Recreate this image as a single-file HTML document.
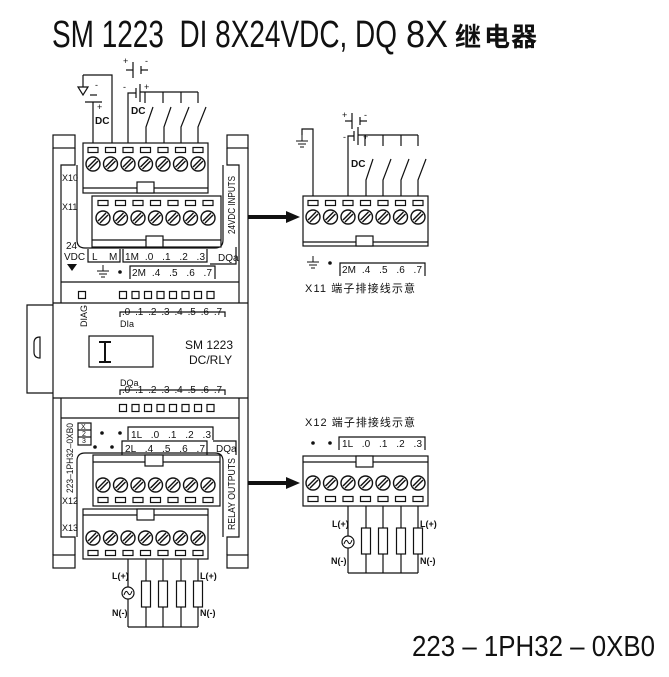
<!DOCTYPE html>
<html><head><meta charset="utf-8"><style>
html,body{margin:0;padding:0;background:#fff}
svg{display:block}
text{font-family:"Liberation Sans","Noto Sans CJK SC",sans-serif;fill:#111;white-space:pre}
</style></head><body>
<svg width="669" height="677" viewBox="0 0 669 677" xmlns="http://www.w3.org/2000/svg">
<defs>
<g id="sc"><circle r="7" fill="#fff" stroke="#111" stroke-width="1.4"/><line x1="-5" y1="3" x2="3" y2="-5" stroke="#111" stroke-width="1.4"/><line x1="-3" y1="5" x2="5" y2="-3" stroke="#111" stroke-width="1.4"/></g>
<rect id="sl" x="-5" y="-2.5" width="10" height="5" fill="#fff" stroke="#111" stroke-width="1.2"/>
<rect id="led" x="-3.5" y="-3.5" width="7" height="7" fill="#fff" stroke="#111" stroke-width="1.2"/>
<g id="res"><rect x="-4.5" y="0" width="9" height="26" fill="#fff" stroke="#111" stroke-width="1.2"/></g>
<g id="lamp"><circle r="6" fill="#fff" stroke="#111" stroke-width="1.2"/><path d="M-4 2 Q-2 -4 0 0 Q2 4 4 -2" fill="none" stroke="#111"/></g>
<g id="gnd"><line x1="0" y1="0" x2="0" y2="6" stroke="#111"/><line x1="-6" y1="6" x2="6" y2="6" stroke="#111"/><line x1="-4" y1="9" x2="4" y2="9" stroke="#111"/><line x1="-2" y1="12" x2="2" y2="12" stroke="#111"/></g>
</defs>

<!-- Title -->
<text x="52" y="47" font-size="38" textLength="345" lengthAdjust="spacingAndGlyphs">SM 1223  DI 8X24VDC, DQ</text>
<text x="406" y="47" font-size="38" textLength="42" lengthAdjust="spacingAndGlyphs">8X</text>
<text x="455" y="46" font-size="26" font-weight="bold">继</text>
<text x="484" y="46" font-size="26" font-weight="bold">电</text>
<text x="511" y="46" font-size="26" font-weight="bold">器</text>

<g fill="none" stroke="#111" stroke-width="1.2">
<rect x="53" y="135" width="22" height="13"/>
<rect x="227" y="135" width="21" height="13"/>
<line x1="53" y1="148" x2="53" y2="555"/><line x1="248" y1="148" x2="248" y2="555"/>
<polyline points="75,148 75,165 61,165 61,303"/>
<polyline points="227,148 227,165 239,165 239,303"/>
<line x1="61" y1="282" x2="239" y2="282"/>
<line x1="53" y1="303" x2="248" y2="303"/>
<line x1="53" y1="398" x2="248" y2="398"/>
<polyline points="61,398 61,537 75,537 75,555"/>
<polyline points="239,398 239,537 227,537 227,555"/>
<line x1="61" y1="418" x2="239" y2="418"/>
<rect x="53" y="555" width="22" height="13"/>
<rect x="227" y="555" width="21" height="13"/>
<path d="M77 165 V240 Q77 248 85 248 H215 Q223 248 223 240 V165"/>
<path d="M77 537 V461 Q77 453 85 453 H215 Q223 453 223 461 V537"/>
<path d="M53 305 H27 V393 H53"/>
<path d="M40 337 Q34 337 34 343 V352 Q34 358 40 358 Z"/>

<rect x="83" y="143" width="125" height="50" fill="#fff"/>
<line x1="83" y1="188" x2="208" y2="188"/>
<rect x="137" y="182" width="17" height="11" fill="#fff"/>
<rect x="92" y="196" width="129" height="51" fill="#fff"/>
<line x1="92" y1="240" x2="221" y2="240"/>
<rect x="146" y="236" width="17" height="11" fill="#fff"/>
<rect x="93" y="455" width="127" height="51" fill="#fff"/>
<line x1="93" y1="462" x2="220" y2="462"/>
<rect x="145" y="455" width="18" height="11" fill="#fff"/>
<rect x="83" y="509" width="125" height="50" fill="#fff"/>
<line x1="83" y1="515" x2="208" y2="515"/>
<rect x="137" y="509" width="17" height="11" fill="#fff"/>

<polyline points="88,249 88,262 120,262 120,249"/>
<polyline points="123,249 123,262 207,262 207,249"/>
<polyline points="210,264 236,264 236,247"/>
<polyline points="130,279 130,266 215,266 215,279"/>
<polyline points="120,317 120,312 225,312 225,317"/>
<polyline points="120,395 120,390 225,390 225,395"/>
<polyline points="128,440 128,427 213,427 213,440"/>
<polyline points="122,455 122,441 207,441 207,455"/>
<polyline points="213,441 236,441 236,455"/>
<rect x="78" y="423" width="13" height="22"/>
<line x1="78" y1="430" x2="91" y2="430"/><line x1="78" y1="437" x2="91" y2="437"/>
<rect x="89" y="336" width="64" height="31"/>

<polyline points="83,75 112,75 112,143"/>
<line x1="83" y1="75" x2="83" y2="87"/>
<path d="M78 87 H88 L83 95 Z"/>
<line x1="93" y1="102" x2="93" y2="143"/>
<line x1="90" y1="95" x2="97" y2="95"/>
<line x1="85" y1="102" x2="102" y2="102"/>
<line x1="133" y1="62" x2="133" y2="78"/><line x1="141" y1="66" x2="141" y2="74"/>
<line x1="126" y1="70" x2="133" y2="70"/><line x1="141" y1="70" x2="148" y2="70"/>
<polyline points="128,143 128,93 136,93"/>
<line x1="136" y1="88" x2="136" y2="98"/><line x1="140" y1="84" x2="140" y2="102"/>
<polyline points="140,92 198,92"/>
<line x1="145" y1="92" x2="145" y2="103"/><line x1="163" y1="92" x2="163" y2="103"/><line x1="181" y1="92" x2="181" y2="103"/><line x1="198" y1="92" x2="198" y2="103"/>
<polyline points="153,107 146,127 146,143"/><polyline points="171,107 164,127 164,143"/><polyline points="189,107 181,127 181,143"/><polyline points="206,107 198,127 198,143"/>

<line x1="128" y1="559" x2="128" y2="587"/><line x1="128" y1="599" x2="128" y2="627"/>
<line x1="146" y1="559" x2="146" y2="627"/><line x1="163" y1="559" x2="163" y2="627"/><line x1="181" y1="559" x2="181" y2="627"/><line x1="198" y1="559" x2="198" y2="627"/>
<line x1="128" y1="627" x2="198" y2="627"/>

<rect x="303" y="196" width="125" height="50" fill="#fff"/>
<line x1="303" y1="242" x2="428" y2="242"/>
<rect x="356" y="236" width="17" height="10" fill="#fff"/>
<polyline points="313,196 313,129 302,129 302,135"/>
<polyline points="348,196 348,136 354,136"/>
<line x1="354" y1="131" x2="354" y2="141"/><line x1="358" y1="127" x2="358" y2="145"/>
<polyline points="358,135 418,135"/>
<line x1="365" y1="135" x2="365" y2="146"/><line x1="383" y1="135" x2="383" y2="146"/><line x1="401" y1="135" x2="401" y2="146"/><line x1="418" y1="135" x2="418" y2="146"/>
<polyline points="373,159 366,180 366,196"/><polyline points="391,159 383,180 383,196"/><polyline points="409,159 401,180 401,196"/><polyline points="426,159 418,180 418,196"/>
<line x1="352" y1="113" x2="352" y2="129"/><line x1="360" y1="117" x2="360" y2="125"/>
<line x1="345" y1="121" x2="352" y2="121"/><line x1="360" y1="121" x2="367" y2="121"/>
<polyline points="340,276 340,263 425,263 425,276"/>

<polyline points="339,450 339,437 425,437 425,450"/>
<rect x="303" y="456" width="125" height="50" fill="#fff"/>
<line x1="303" y1="462" x2="428" y2="462"/>
<rect x="356" y="456" width="17" height="11" fill="#fff"/>
<line x1="348" y1="506" x2="348" y2="536"/><line x1="348" y1="548" x2="348" y2="573"/>
<line x1="366" y1="506" x2="366" y2="573"/><line x1="383" y1="506" x2="383" y2="573"/><line x1="401" y1="506" x2="401" y2="573"/><line x1="418" y1="506" x2="418" y2="573"/>
<line x1="348" y1="573" x2="418" y2="573"/>
</g>

<line x1="248" y1="217" x2="288" y2="217" stroke="#111" stroke-width="4"/>
<path d="M286 211 L300 217 L286 223 Z" fill="#111"/>
<line x1="248" y1="483" x2="288" y2="483" stroke="#111" stroke-width="4"/>
<path d="M286 477 L300 483 L286 489 Z" fill="#111"/>

<g>
<use href="#sl" x="93" y="150"/><use href="#sl" x="110.5" y="150"/><use href="#sl" x="128" y="150"/><use href="#sl" x="145.5" y="150"/><use href="#sl" x="163" y="150"/><use href="#sl" x="180.5" y="150"/><use href="#sl" x="198" y="150"/>
<use href="#sc" x="93" y="164"/><use href="#sc" x="110.5" y="164"/><use href="#sc" x="128" y="164"/><use href="#sc" x="145.5" y="164"/><use href="#sc" x="163" y="164"/><use href="#sc" x="180.5" y="164"/><use href="#sc" x="198" y="164"/>
<use href="#sl" x="103" y="203"/><use href="#sl" x="120.5" y="203"/><use href="#sl" x="138" y="203"/><use href="#sl" x="155.5" y="203"/><use href="#sl" x="173" y="203"/><use href="#sl" x="190.5" y="203"/><use href="#sl" x="208" y="203"/>
<use href="#sc" x="103" y="218"/><use href="#sc" x="120.5" y="218"/><use href="#sc" x="138" y="218"/><use href="#sc" x="155.5" y="218"/><use href="#sc" x="173" y="218"/><use href="#sc" x="190.5" y="218"/><use href="#sc" x="208" y="218"/>
<use href="#sc" x="103" y="485"/><use href="#sc" x="120.5" y="485"/><use href="#sc" x="138" y="485"/><use href="#sc" x="155.5" y="485"/><use href="#sc" x="173" y="485"/><use href="#sc" x="190.5" y="485"/><use href="#sc" x="208" y="485"/>
<use href="#sl" x="103" y="500"/><use href="#sl" x="120.5" y="500"/><use href="#sl" x="138" y="500"/><use href="#sl" x="155.5" y="500"/><use href="#sl" x="173" y="500"/><use href="#sl" x="190.5" y="500"/><use href="#sl" x="208" y="500"/>
<use href="#sc" x="93" y="538"/><use href="#sc" x="110.5" y="538"/><use href="#sc" x="128" y="538"/><use href="#sc" x="145.5" y="538"/><use href="#sc" x="163" y="538"/><use href="#sc" x="180.5" y="538"/><use href="#sc" x="198" y="538"/>
<use href="#sl" x="93" y="553"/><use href="#sl" x="110.5" y="553"/><use href="#sl" x="128" y="553"/><use href="#sl" x="145.5" y="553"/><use href="#sl" x="163" y="553"/><use href="#sl" x="180.5" y="553"/><use href="#sl" x="198" y="553"/>
<use href="#sl" x="313" y="203"/><use href="#sl" x="330.5" y="203"/><use href="#sl" x="348" y="203"/><use href="#sl" x="365.5" y="203"/><use href="#sl" x="383" y="203"/><use href="#sl" x="400.5" y="203"/><use href="#sl" x="418" y="203"/>
<use href="#sc" x="313" y="217"/><use href="#sc" x="330.5" y="217"/><use href="#sc" x="348" y="217"/><use href="#sc" x="365.5" y="217"/><use href="#sc" x="383" y="217"/><use href="#sc" x="400.5" y="217"/><use href="#sc" x="418" y="217"/>
<use href="#sc" x="313" y="483"/><use href="#sc" x="330.5" y="483"/><use href="#sc" x="348" y="483"/><use href="#sc" x="365.5" y="483"/><use href="#sc" x="383" y="483"/><use href="#sc" x="400.5" y="483"/><use href="#sc" x="418" y="483"/>
<use href="#sl" x="313" y="499"/><use href="#sl" x="330.5" y="499"/><use href="#sl" x="348" y="499"/><use href="#sl" x="365.5" y="499"/><use href="#sl" x="383" y="499"/><use href="#sl" x="400.5" y="499"/><use href="#sl" x="418" y="499"/>
<use href="#led" x="82" y="295"/>
<use href="#led" x="123" y="295"/><use href="#led" x="135.5" y="295"/><use href="#led" x="148" y="295"/><use href="#led" x="160.5" y="295"/><use href="#led" x="173" y="295"/><use href="#led" x="185.5" y="295"/><use href="#led" x="198" y="295"/><use href="#led" x="210.5" y="295"/>
<use href="#led" x="123" y="408"/><use href="#led" x="135.5" y="408"/><use href="#led" x="148" y="408"/><use href="#led" x="160.5" y="408"/><use href="#led" x="173" y="408"/><use href="#led" x="185.5" y="408"/><use href="#led" x="198" y="408"/><use href="#led" x="210.5" y="408"/>
<use href="#lamp" x="128" y="593"/>
<use href="#res" x="146" y="581"/><use href="#res" x="163" y="581"/><use href="#res" x="181" y="581"/><use href="#res" x="198" y="581"/>
<use href="#lamp" x="348" y="542"/>
<use href="#res" x="366" y="528"/><use href="#res" x="383" y="528"/><use href="#res" x="401" y="528"/><use href="#res" x="418" y="528"/>
<use href="#gnd" x="302" y="135"/>
<use href="#gnd" x="103" y="265"/><use href="#gnd" x="313" y="256"/>
</g>

<path d="M99 342 H111 M105 342 V362 M99 362 H111" stroke="#111" stroke-width="2" fill="none"/>

<g font-size="10">
<text x="95" y="88" font-size="9">-</text><text x="97" y="110" font-size="9">+</text>
<text x="95" y="124" font-size="10" font-weight="bold">DC</text>
<text x="123" y="64" font-size="9">+</text><text x="145" y="64" font-size="9">-</text>
<text x="123" y="90" font-size="9">-</text><text x="144" y="90" font-size="9">+</text>
<text x="131" y="114" font-weight="bold">DC</text>
<text x="342" y="118" font-size="9">+</text><text x="364" y="118" font-size="9">-</text>
<text x="343" y="140" font-size="9">-</text><text x="363" y="140" font-size="9">+</text>
<text x="351" y="167" font-weight="bold">DC</text>
<text x="62" y="181" font-size="9">X10</text>
<text x="62" y="210" font-size="9">X11</text>
<text x="66" y="249">24</text>
<text x="64" y="260">VDC</text>
<path d="M67 264 H77 L72 271 Z" fill="#111"/>
<text x="92" y="260">L</text><text x="109" y="260">M</text>
<text x="125" y="260" textLength="80">1M  .0   .1   .2   .3</text>
<text x="218" y="261">DQa</text>
<circle cx="120" cy="272" r="1.8" fill="#111"/>
<text x="132" y="276" textLength="80">2M  .4   .5   .6   .7</text>
<text x="122" y="315" textLength="100">.0  .1  .2  .3  .4  .5  .6  .7</text>
<text x="120" y="327" font-size="9">DIa</text>
<text transform="translate(87,327) rotate(-90)" font-size="9">DIAG</text>
<text x="185" y="349" font-size="12">SM 1223</text>
<text x="189" y="364" font-size="12">DC/RLY</text>
<text x="120" y="386" font-size="9">DQa</text>
<text x="122" y="393" textLength="100">.0  .1  .2  .3  .4  .5  .6  .7</text>
<text x="81" y="429" font-size="7">X</text><text x="82" y="436" font-size="7">2</text><text x="82" y="443" font-size="7">3</text>
<text transform="translate(73,493) rotate(-90)" font-size="9" textLength="70" lengthAdjust="spacingAndGlyphs">223–1PH32–0XB0</text>
<circle cx="102" cy="433" r="1.8" fill="#111"/><circle cx="120" cy="433" r="1.8" fill="#111"/>
<text x="131" y="438" textLength="80">1L   .0   .1   .2   .3</text>
<circle cx="95" cy="447" r="1.8" fill="#111"/><circle cx="112" cy="447" r="1.8" fill="#111"/>
<text x="125" y="452" textLength="80">2L   .4   .5   .6   .7</text>
<text x="216" y="452">DQa</text>
<text x="62" y="504" font-size="9">X12</text>
<text x="62" y="531" font-size="9">X13</text>
<text transform="translate(235,234) rotate(-90)" font-size="10" textLength="58" lengthAdjust="spacingAndGlyphs">24VDC INPUTS</text>
<text transform="translate(235,530) rotate(-90)" font-size="10" textLength="72" lengthAdjust="spacingAndGlyphs">RELAY OUTPUTS</text>
<text x="112" y="579" font-size="9" font-weight="bold">L(+)</text>
<text x="112" y="616" font-size="9" font-weight="bold">N(-)</text>
<text x="200" y="579" font-size="9" font-weight="bold">L(+)</text>
<text x="200" y="616" font-size="9" font-weight="bold">N(-)</text>
<circle cx="330" cy="263" r="1.8" fill="#111"/>
<text x="342" y="273" textLength="80">2M  .4   .5   .6   .7</text>
<text x="305" y="292" font-size="11" textLength="112" letter-spacing="2">X11 端子排接线示意</text>
<text x="305" y="426" font-size="11" textLength="112" letter-spacing="2">X12 端子排接线示意</text>
<circle cx="313" cy="443" r="1.8" fill="#111"/><circle cx="330" cy="443" r="1.8" fill="#111"/>
<text x="342" y="447" textLength="80">1L   .0   .1   .2   .3</text>
<text x="332" y="527" font-size="9" font-weight="bold">L(+)</text>
<text x="331" y="564" font-size="9" font-weight="bold">N(-)</text>
<text x="420" y="527" font-size="9" font-weight="bold">L(+)</text>
<text x="420" y="564" font-size="9" font-weight="bold">N(-)</text>
</g>

<text x="412" y="656" font-size="29" textLength="243" lengthAdjust="spacingAndGlyphs">223 – 1PH32 – 0XB0</text>
</svg>
</body></html>
